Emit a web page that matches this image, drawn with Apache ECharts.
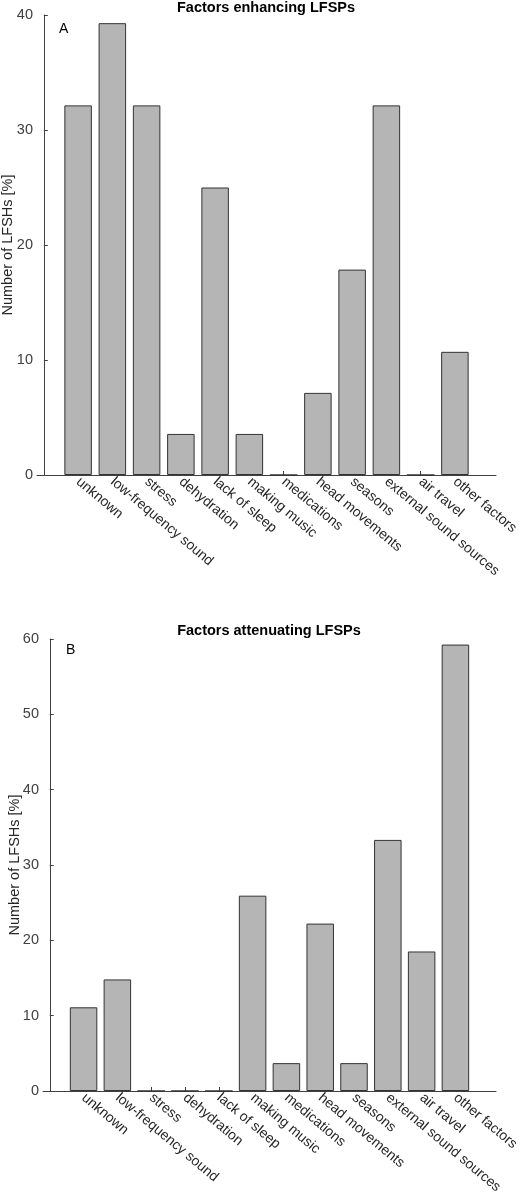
<!DOCTYPE html>
<html>
<head>
<meta charset="utf-8">
<script src="https://cdn.jsdelivr.net/npm/echarts@6/dist/echarts.min.js"></script>
<style>
  html, body { margin: 0; padding: 0; background: #fff; }
  #chart { width: 520px; height: 1200px; }
</style>
</head>
<body>
<div id="chart"></div>
<script>
// categories shared by both panels
var categories = ['unknown', 'low-frequency sound', 'stress', 'dehydration', 'lack of sleep',
  'making music', 'medications', 'head movements', 'seasons', 'external sound sources',
  'air travel', 'other factors'];

// panel A: factors enhancing LFSPs (% of LFSHs)
var enhancing = [32.14, 39.29, 32.14, 3.57, 25.0, 3.57, 0, 7.14, 17.86, 32.14, 0, 10.71];
// panel B: factors attenuating LFSPs (% of LFSHs)
var attenuating = [11.11, 14.81, 0, 0, 0, 25.93, 3.70, 22.22, 3.70, 33.33, 18.52, 59.26];

var yTicksA = [0, 10, 20, 30, 40];
var yTicksB = [0, 10, 20, 30, 40, 50, 60];

var positions = categories.map(function (c, i) { return i + 1 })

var FONT = 'Liberation Sans, Arial, sans-serif'
var AXIS_COLOR = '#404040'

function xAxisFor(gridIndex) {
  return {
    type: 'value',
    gridIndex: gridIndex,
    min: -0.2,
    max: 13.2,
    splitLine: { show: false },
    axisLine: { lineStyle: { color: AXIS_COLOR, width: 1 } },
    axisTick: {
      customValues: positions,
      inside: true,
      length: 4,
      lineStyle: { color: AXIS_COLOR }
    },
    axisLabel: {
      customValues: positions,
      rotate: -40,
      margin: 5,
      color: '#262626',
      fontFamily: FONT,
      fontSize: 14,
      formatter: function (v) { return categories[v - 1] }
    }
  }
}

function yAxisFor(gridIndex, ticks, gap) {
  return {
    type: 'value',
    gridIndex: gridIndex,
    min: ticks[0],
    max: ticks[ticks.length - 1],
    interval: 10,
    name: 'Number of LFSHs [%]',
    nameLocation: 'middle',
    nameGap: gap,
    nameMoveOverlap: false,
    nameTextStyle: { color: '#262626', fontFamily: FONT, fontSize: 14.5 },
    splitLine: { show: false },
    axisLine: { show: true, lineStyle: { color: AXIS_COLOR, width: 1 } },
    axisTick: { show: true, inside: true, length: 4, lineStyle: { color: AXIS_COLOR } },
    axisLabel: { color: '#404040', fontFamily: FONT, fontSize: 14.5, margin: 4 }
  }
}

function barSeries(index, values) {
  return {
    type: 'bar',
    xAxisIndex: index,
    yAxisIndex: index,
    barWidth: 27.5,
    data: values.map(function (v, i) { return [positions[i], v] }),
    itemStyle: { color: '#b5b5b5', borderColor: '#333', borderWidth: 1 },
    animation: false
  }
}

var chart = echarts.init(document.getElementById('chart'))
chart.setOption({
  backgroundColor: '#fff',
  animation: false,
  title: [
    { text: 'Factors enhancing LFSPs', left: 266, top: 0, textAlign: 'center', padding: 0,
      textStyle: { fontFamily: FONT, fontSize: 14.5, fontWeight: 'bold', color: '#000' } },
    { text: 'A', left: 59, top: 22, padding: 0,
      textStyle: { fontFamily: FONT, fontSize: 14, fontWeight: 'normal', color: '#000' } },
    { text: 'Factors attenuating LFSPs', left: 269, top: 623, textAlign: 'center', padding: 0,
      textStyle: { fontFamily: FONT, fontSize: 14.5, fontWeight: 'bold', color: '#000' } },
    { text: 'B', left: 66, top: 643, padding: 0,
      textStyle: { fontFamily: FONT, fontSize: 14, fontWeight: 'normal', color: '#000' } }
  ],
  grid: [
    { left: 37, right: 24, top: 15, height: 460, outerBoundsMode: 'none' },
    { left: 43, right: 24, top: 639, height: 452, outerBoundsMode: 'none' }
  ],
  xAxis: [xAxisFor(0), xAxisFor(1)],
  yAxis: [yAxisFor(0, yTicksA, 22), yAxisFor(1, yTicksB, 21)],
  series: [barSeries(0, enhancing), barSeries(1, attenuating)]
})
</script>
</body>
</html>
